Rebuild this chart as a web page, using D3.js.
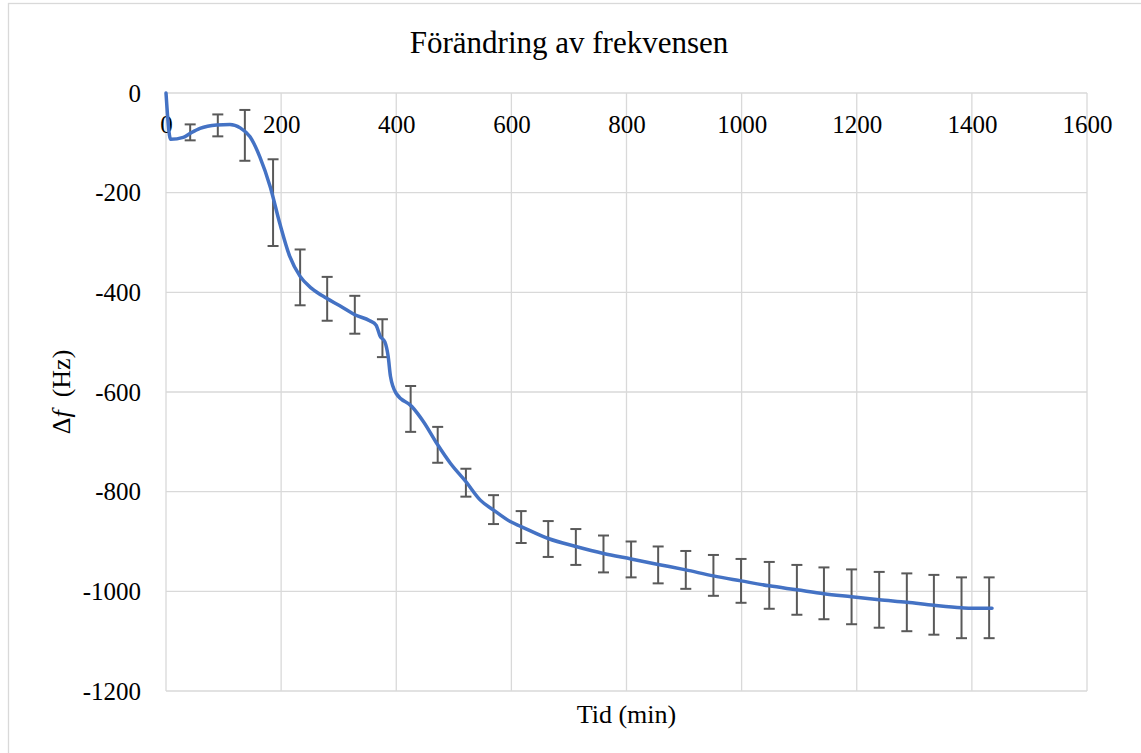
<!DOCTYPE html>
<html>
<head>
<meta charset="utf-8">
<script src="https://cdn.jsdelivr.net/npm/d3@7/dist/d3.min.js"></script>
<style>
  body { margin: 0; background: #fff; }
  text { font-family: "Liberation Serif", "Times New Roman", serif; fill: #000; }
</style>
</head>
<body>
<script>
// chart size
var W = 1141, H = 753;
var margin = {top: 93, right: 54, bottom: 62, left: 166};
var width = W - margin.left - margin.right;   // 921
var height = H - margin.top - margin.bottom;  // 598

// data
var title = "Förändring av frekvensen";
var xTitle = "Tid (min)";
var xTicks = [0, 200, 400, 600, 800, 1000, 1200, 1400, 1600];
var yTicks = [0, -200, -400, -600, -800, -1000, -1200];

// the blue curve (time in min, delta f in Hz)
var lineTime = [0, 8, 30, 42, 59, 88, 111, 129, 146, 163, 181, 198, 215, 233, 253, 279, 302, 328,
  354, 365, 372, 380, 386, 390, 400, 427, 447, 472, 494, 521, 546, 569, 598, 617, 664, 712, 760,
  808, 855, 903, 951, 999, 1048, 1096, 1143, 1191, 1239, 1287, 1334, 1382, 1400, 1435];
var lineValue = [0, -93, -89, -81, -71, -64, -63, -70, -88, -128, -188, -263, -328, -368, -392,
  -412, -427, -445, -457, -466, -488, -499, -529, -569, -603, -629, -659, -706, -743, -780, -817,
  -837, -860, -870, -894, -910, -924, -935, -946, -957, -969, -979, -989, -997, -1005, -1011,
  -1017, -1022, -1028, -1033, -1034, -1034];

// error bars
var errTime = [42, 90, 137, 186, 233, 280, 328, 376, 425, 472, 521, 569, 617, 664, 712, 760, 808,
  855, 903, 951, 999, 1048, 1096, 1143, 1191, 1239, 1287, 1334, 1382, 1430];
var errMean = [-79, -65, -85, -220, -370, -413, -445, -492, -634, -706, -782, -836, -871, -895,
  -911, -925, -936, -947, -957, -968, -979, -988, -997, -1004, -1011, -1017, -1022, -1027, -1033, -1033];
var errSize = [16, 22, 51, 87, 56, 44, 38, 38, 46, 36, 28, 29, 32, 36, 36, 37, 36, 37, 38, 41,
  44, 47, 50, 52, 55, 56, 58, 60, 61, 61];

var svg = d3.select("body").append("svg")
  .attr("width", W)
  .attr("height", H);

svg.append("rect")
  .attr("x", 8.5).attr("y", 3.5)
  .attr("width", W + 20).attr("height", H + 20)
  .attr("fill", "#fff")
  .attr("stroke", "#d9d9d9")
  .attr("stroke-width", 1.3);

var g = svg.append("g")
  .attr("transform", "translate(" + margin.left + "," + margin.top + ")");

var x = d3.scaleLinear().domain([0, 1600]).range([0, width]);
var y = d3.scaleLinear().domain([-1200, 0]).range([height, 0]);

// grid
g.selectAll(".vgrid").data(xTicks).enter().append("line")
  .attr("x1", function(d){ return x(d); }).attr("x2", function(d){ return x(d); })
  .attr("y1", 0).attr("y2", height)
  .attr("stroke", "#d9d9d9").attr("stroke-width", 1.3);

g.selectAll(".hgrid").data(yTicks).enter().append("line")
  .attr("x1", 0).attr("x2", width)
  .attr("y1", function(d){ return y(d); }).attr("y2", function(d){ return y(d); })
  .attr("stroke", "#d9d9d9").attr("stroke-width", 1.3);

// axes (labels only), plain hyphen for minus like the original
var fmt = function(d){ return String(d); };

var xAxis = g.append("g")
  .call(d3.axisBottom(x).tickValues(xTicks).tickSize(0).tickPadding(0).tickFormat(fmt));
xAxis.select(".domain").remove();
xAxis.selectAll("text")
  .attr("y", 40).attr("dy", null)
  .style("font-family", "Liberation Serif, Times New Roman, serif")
  .style("font-size", "25px").attr("fill", "#000");

var yAxis = g.append("g")
  .call(d3.axisLeft(y).tickValues(yTicks).tickSize(0).tickPadding(25).tickFormat(fmt));
yAxis.select(".domain").remove();
yAxis.selectAll("text")
  .style("font-family", "Liberation Serif, Times New Roman, serif")
  .style("font-size", "25px").attr("fill", "#000");

// error bars
var bars = g.selectAll(".err").data(errTime).enter().append("g");
bars.append("line")
  .attr("x1", function(d){ return x(d); }).attr("x2", function(d){ return x(d); })
  .attr("y1", function(d, i){ return y(errMean[i] + errSize[i]); })
  .attr("y2", function(d, i){ return y(errMean[i] - errSize[i]); });
bars.append("line")
  .attr("x1", function(d){ return x(d) - 5.5; }).attr("x2", function(d){ return x(d) + 5.5; })
  .attr("y1", function(d, i){ return y(errMean[i] + errSize[i]); })
  .attr("y2", function(d, i){ return y(errMean[i] + errSize[i]); });
bars.append("line")
  .attr("x1", function(d){ return x(d) - 5.5; }).attr("x2", function(d){ return x(d) + 5.5; })
  .attr("y1", function(d, i){ return y(errMean[i] - errSize[i]); })
  .attr("y2", function(d, i){ return y(errMean[i] - errSize[i]); });
bars.selectAll("line").attr("stroke", "#595959").attr("stroke-width", 2);

// curve
var line = d3.line()
  .x(function(d, i){ return x(lineTime[i]); })
  .y(function(d){ return y(d); })
  .curve(d3.curveMonotoneX);

g.append("path")
  .datum(lineValue)
  .attr("d", line)
  .attr("fill", "none")
  .attr("stroke", "#4472c4")
  .attr("stroke-width", 3.5)
  .attr("stroke-linejoin", "round")
  .attr("stroke-linecap", "round");

// titles
svg.append("text")
  .attr("x", 569).attr("y", 53)
  .attr("text-anchor", "middle")
  .style("font-size", "31px")
  .text(title);

svg.append("text")
  .attr("x", margin.left + width / 2).attr("y", 723)
  .attr("text-anchor", "middle")
  .style("font-size", "26px")
  .text(xTitle);

var yt = svg.append("text")
  .attr("transform", "translate(70," + (margin.top + height / 2) + ") rotate(-90)")
  .attr("text-anchor", "middle")
  .style("font-size", "26px");
yt.append("tspan").text("Δ");
yt.append("tspan").style("font-style", "italic").text("f");
yt.append("tspan").text("  (Hz)").attr("xml:space", "preserve");
</script>
</body>
</html>
